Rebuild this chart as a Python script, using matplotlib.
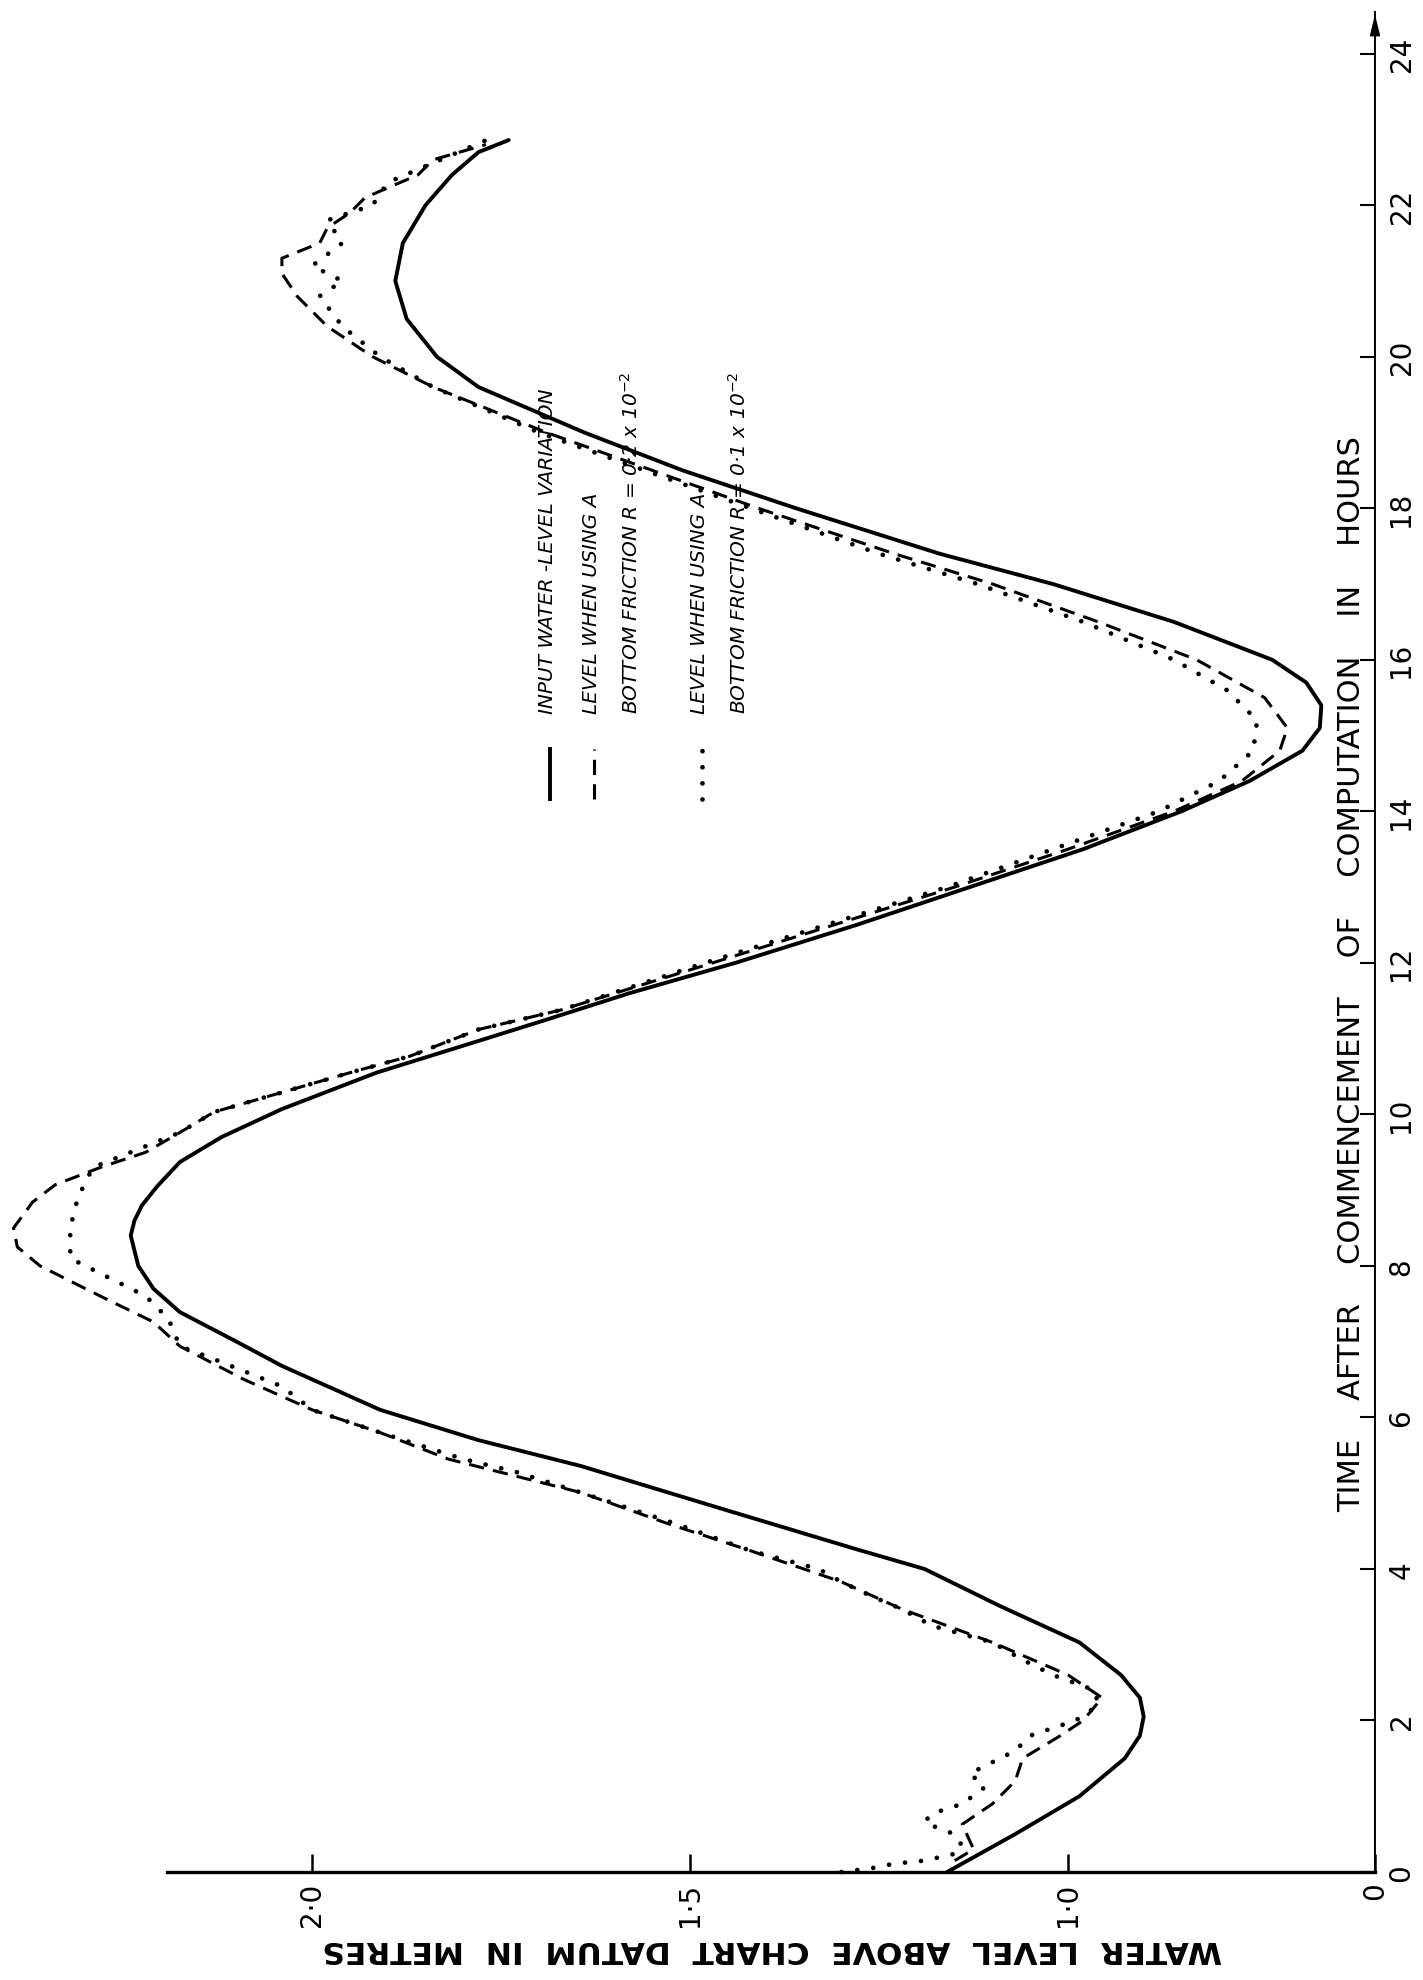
import matplotlib.pyplot as plt
from matplotlib.lines import Line2D

# image size in pixels (figure is laid out in these units)
W, H = 1423, 1981

# ---- data (time in hours, level in metres) ----
t_input = [0.0, 0.5, 1.0, 1.5, 1.8, 2.05, 2.3, 2.6, 3.03, 3.51, 4.0, 4.26,
           4.8, 5.36, 5.7, 6.1, 6.68, 7.0, 7.39, 7.7, 8.0, 8.2, 8.4, 8.6,
           8.8, 9.05, 9.37, 9.7, 10.07, 10.55, 11.0, 11.25, 11.6, 12.0, 12.5,
           13.0, 13.5, 14.0, 14.4, 14.8, 15.1, 15.4, 15.7, 16.0, 16.5, 17.0,
           17.4, 18.0, 18.5, 19.0, 19.6, 20.0, 20.5, 21.0, 21.5, 22.0, 22.4,
           22.7, 22.86]
lev_input = [1.16, 1.07, 0.985, 0.925, 0.905, 0.90, 0.905, 0.93, 0.985, 1.09,
             1.19, 1.28, 1.46, 1.645, 1.78, 1.91, 2.04, 2.10, 2.175, 2.21, 2.23,
             2.235, 2.24, 2.235, 2.225, 2.205, 2.175, 2.12, 2.04, 1.915, 1.77,
             1.69, 1.58, 1.44, 1.28, 1.13, 0.98, 0.85, 0.76, 0.69, 0.667, 0.665,
             0.685, 0.73, 0.86, 1.02, 1.17, 1.36, 1.51, 1.64, 1.78, 1.835, 1.875,
             1.89, 1.88, 1.85, 1.815, 1.78, 1.74]

t_r02 = [0.15, 0.3, 0.63, 0.9, 1.2, 1.5, 1.8, 2.0, 2.3, 2.6, 3.03, 3.47,
         3.83, 4.24, 4.6, 5.01, 5.45, 5.8, 6.1, 6.5, 6.94, 7.26, 7.6, 8.0,
         8.25, 8.5, 8.84, 9.07, 9.3, 9.5, 9.76, 10.03, 10.29, 10.55, 10.77,
         11.12, 11.38, 12.0, 12.5, 13.0, 13.5, 14.0, 14.4, 14.8, 15.1, 15.5,
         16.0, 16.5, 17.0, 17.4, 18.0, 18.5, 19.0, 19.6, 20.0, 20.4, 20.8, 21.1,
         21.3, 21.5, 21.7, 21.9, 22.1, 22.4, 22.6, 22.8]
lev_r02 = [1.15, 1.125, 1.14, 1.10, 1.07, 1.06, 1.01, 0.98, 0.955, 1.0, 1.10,
           1.22, 1.30, 1.42, 1.53, 1.645, 1.82, 1.91, 2.0, 2.09, 2.175, 2.21,
           2.28, 2.36, 2.39, 2.395, 2.37, 2.34, 2.28, 2.22, 2.175, 2.13, 2.04,
           1.95, 1.87, 1.78, 1.67, 1.47, 1.31, 1.15, 1.0, 0.86, 0.77, 0.72,
           0.71, 0.74, 0.83, 0.96, 1.10, 1.23, 1.41, 1.55, 1.69, 1.84, 1.92,
           1.98, 2.02, 2.04, 2.04, 1.99, 1.98, 1.95, 1.93, 1.86, 1.84, 1.77]

t_r01 = [0.0, 0.05, 0.11, 0.15, 0.24, 0.34, 0.5, 0.57, 0.66, 0.77, 0.9, 1.12,
         1.3, 1.45, 1.6, 1.8, 2.0, 2.2, 2.4, 2.6, 2.8, 3.03, 3.25, 3.47, 3.64,
         3.83, 4.0, 4.24, 4.6, 5.01, 5.28, 5.45, 5.8, 6.1, 6.41, 6.77, 6.94,
         7.3, 7.6, 7.9, 8.1, 8.5, 8.9, 9.3, 9.5, 9.76, 10.03, 10.29, 10.55,
         10.77, 11.12, 11.38, 12.0, 12.5, 13.0, 13.5, 14.0, 14.4, 14.8, 15.2,
         15.6, 16.0, 16.5, 17.0, 17.4, 18.0, 18.5, 19.0, 19.6, 20.0, 20.4, 20.8,
         21.0, 21.2, 21.5, 21.8, 22.0, 22.3, 22.6, 22.9]
lev_r01 = [1.30, 1.26, 1.23, 1.19, 1.15, 1.14, 1.15, 1.17, 1.19, 1.18, 1.14,
           1.11, 1.13, 1.10, 1.07, 1.05, 0.99, 0.96, 0.965, 1.02, 1.06, 1.10,
           1.18, 1.22, 1.26, 1.30, 1.33, 1.42, 1.52, 1.645, 1.73, 1.80, 1.91,
           2.0, 2.04, 2.13, 2.175, 2.19, 2.22, 2.28, 2.32, 2.32, 2.31, 2.29,
           2.24, 2.175, 2.13, 2.04, 1.95, 1.87, 1.78, 1.67, 1.48, 1.32, 1.16,
           1.02, 0.88, 0.80, 0.755, 0.75, 0.79, 0.86, 0.98, 1.12, 1.25, 1.42,
           1.56, 1.70, 1.84, 1.91, 1.96, 1.99, 1.96, 2.00, 1.96, 1.98, 1.92,
           1.90, 1.83, 1.76]

time_ticks = [0, 2, 4, 6, 8, 10, 12, 14, 16, 18, 20, 22, 24]
level_ticks = [0.594, 1.0, 1.5, 2.0]          # first tick is the false origin
level_labels = ['0', '1·0', '1·5', '2·0']

legend_labels = ['INPUT WATER -LEVEL VARIATION',
                 'LEVEL WHEN USING A\nBOTTOM FRICTION R = 0·2 x 10$^{-2}$',
                 'LEVEL WHEN USING A\nBOTTOM FRICTION R = 0·1 x 10$^{-2}$']


def fx(x):
    return x / W


def fy(y):
    return 1 - y / H


plt.rcParams['font.family'] = ['DejaVu Sans']

fig = plt.figure(figsize=(W / 100, H / 100), dpi=100)
ax = fig.add_axes([fx(167), fy(1873), (1375 - 167) / W, (1873 - 13) / H])
ax.set_xlim(2.192, 0.594)
ax.set_ylim(0, 24.55)

# curves (level on the horizontal axis, time running upwards)
ax.plot(lev_input, t_input, color='black', lw=2.8, solid_capstyle='round',
        solid_joinstyle='round', clip_on=False)
ax.plot(lev_r02, t_r02, color='black', lw=2.2, linestyle=(0, (5, 3)),
        clip_on=False)
ax.plot(lev_r01, t_r01, color='black', lw=3.4, linestyle=(0, (0.01, 3.4)),
        dash_capstyle='round', clip_on=False)

# axes styling
for side in ['top', 'left']:
    ax.spines[side].set_visible(False)
ax.spines['right'].set_linewidth(1.4)
ax.spines['bottom'].set_linewidth(2.4)

ax.yaxis.tick_right()
ax.set_yticks(time_ticks)
ax.set_yticklabels([str(v) for v in time_ticks])
ax.tick_params(axis='y', direction='in', length=11, width=1.5, pad=9,
               labelsize=20, labelrotation=90)
for lab in ax.get_yticklabels():
    lab.set_va('center')

ax.set_xticks(level_ticks)
ax.set_xticklabels(level_labels)
ax.tick_params(axis='x', direction='in', length=13, width=1.8, pad=7,
               labelsize=20, labelrotation=90)

# arrow head on the time axis
ax.annotate('', xy=(1, 1), xycoords='axes fraction',
            xytext=(1, 0.985), textcoords='axes fraction',
            arrowprops=dict(arrowstyle='-|>,head_length=1.2,head_width=0.3',
                            color='black', lw=1.4))

# axis titles
fig.text(fx(1352), fy(1512),
         'TIME    AFTER    COMMENCEMENT    OF    COMPUTATION    IN    HOURS',
         rotation=90, rotation_mode='anchor', ha='left', va='center',
         fontsize=22)
fig.text(fx(772), fy(1950), 'WATER  LEVEL  ABOVE  CHART  DATUM  IN  METRES',
         rotation=180, ha='center', va='center', fontsize=22.5,
         fontweight='bold')

# hand-drawn style legend, rotated like the rest of the page
styles = [dict(lw=2.8), dict(lw=2.2, linestyle=(0, (5, 3))),
          dict(lw=3.4, linestyle=(0, (0.01, 3.4)), dash_capstyle='round')]
legend_x = [550, 594, 702]
for x0, lab, st in zip(legend_x, legend_labels, styles):
    fig.add_artist(Line2D([fx(x0), fx(x0)], [fy(800), fy(750)],
                          transform=fig.transFigure, color='black', **st))
    fig.text(fx(x0 - 12), fy(714), lab, rotation=90, rotation_mode='anchor',
             ha='left', va='top', fontsize=14.5, style='italic',
             linespacing=2.05)

fig.savefig('out.png', dpi=100)
